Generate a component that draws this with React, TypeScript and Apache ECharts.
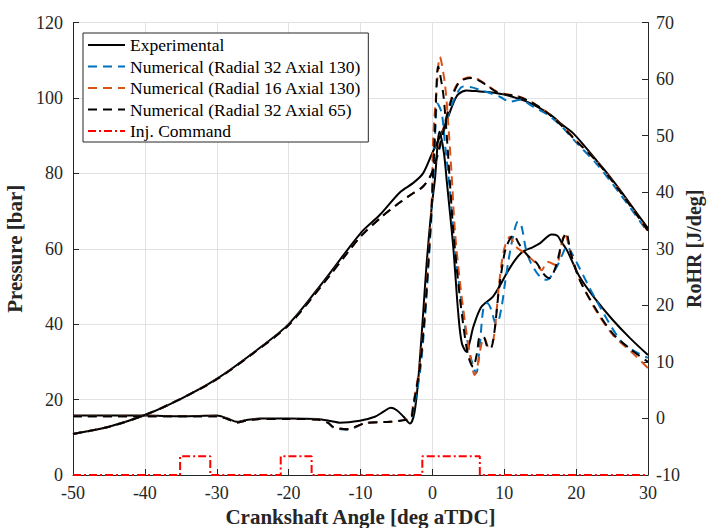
import React, { useEffect, useRef } from "react";
import * as echarts from "echarts";

// ---------- Data ----------
const xTicks = { min: -50, max: 30, interval: 10 };
const pTicks = { min: 0, max: 120, interval: 20 };
const rTicks = { min: -10, max: 70, interval: 10 };

// Experimental pressure [bar]
const pExpX = [-50, -45, -40, -35, -30, -25, -20, -15, -10, -7.3, -4.5, -2.7, -1.3, -0.1, 1, 2, 3, 3.6, 4.75, 6.6, 8, 10, 12, 13.6, 15, 16.8, 18, 19.6, 21, 22.8, 24.5, 26.1, 28, 30];
const pExpY = [10.9, 12.8, 15.9, 20.2, 25.5, 32.3, 40.0, 51.7, 64.1, 69, 75, 77.4, 80, 85, 89.5, 94, 99, 101, 102, 101.7, 101.5, 100.9, 99.8, 98.6, 97.2, 95, 93, 90.6, 87.6, 83.5, 79.6, 75.6, 70.6, 65.4];

// Numerical pressure, Radial 32 Axial 130 (blue)
const pB32X = [-50, -45, -40, -35, -30, -25, -20, -15, -12, -10, -7, -5, -3.1, -1.3, -0.1, 1, 2, 3, 4.3, 5.5, 6.6, 8, 9.4, 10.8, 12.2, 14, 16, 18, 20, 22.8, 26.1, 30];
const pB32Y = [10.9, 12.8, 15.9, 20.2, 25.4, 32.2, 39.8, 51.2, 58.5, 63.2, 68.6, 71.6, 74.2, 76.5, 80, 86.5, 94, 99.5, 103, 102.8, 102.1, 101.3, 100.3, 99.0, 99.5, 97.7, 95.6, 92.4, 88.2, 82.6, 74.6, 64.3];

// Numerical pressure, Radial 16 Axial 130 (orange)
const pO16X = [-50, -45, -40, -35, -30, -25, -20, -15, -12, -10, -7, -5, -3.1, -1.3, -0.1, 1, 2, 2.5, 3, 3.6, 4.5, 5.5, 6.5, 7.5, 8.9, 10, 12, 14, 16, 18, 20, 22.8, 26.1, 30];
const pO16Y = [10.9, 12.8, 15.9, 20.2, 25.4, 32.2, 39.8, 51.2, 58.5, 63.2, 68.6, 71.6, 74.2, 76.5, 80, 87.5, 95.5, 99, 102, 104, 105.2, 105.5, 104.8, 103.5, 101.8, 101.1, 100.4, 98.7, 96.1, 92.7, 88.7, 83.3, 75.3, 64.6];

// Numerical pressure, Radial 32 Axial 65 (black dashed)
const pK65X = [-50, -45, -40, -35, -30, -25, -20, -15, -12, -10, -7, -5, -3.1, -1.3, -0.1, 1, 2, 2.5, 3, 3.6, 4.5, 5.5, 6.5, 7.5, 8.9, 10, 12, 14, 16, 18, 20, 22.8, 26.1, 30];
const pK65Y = [10.9, 12.8, 15.9, 20.2, 25.4, 32.2, 39.8, 51.2, 58.5, 63.2, 68.6, 71.6, 74.2, 76.5, 80, 87, 95, 98.5, 101.5, 103.8, 105, 105.3, 104.6, 103.4, 101.6, 101, 100.3, 98.6, 96, 92.6, 88.6, 83.3, 75.2, 64.8];

// Experimental RoHR [J/deg]
const rExpX = [-50, -40, -35, -30, -28.5, -27.2, -26, -24, -20, -16, -14, -12.9, -10.1, -8, -6.8, -5.8, -5, -4, -3.1, -2.5, -1.97, -1.28, -0.8, -0.1, 0.35, 1.0, 1.6, 2.0, 2.9, 3.6, 4.1, 4.75, 5.2, 5.7, 6.8, 8.4, 9.4, 10.3, 11.5, 12.6, 14, 15, 16.6, 17.4, 17.9, 18.7, 20.5, 22.8, 25.1, 27.5, 30];
const rExpY = [0.5, 0.5, 0.4, 0.5, 0, -0.6, -0.3, 0, 0, -0.1, -0.5, -0.75, -0.4, 0.3, 1.2, 1.9, 1.5, 0.3, -0.9, 1, 6.8, 18.6, 27.4, 37.4, 42.2, 50.7, 47, 42, 30.4, 18.6, 13.3, 11.8, 13.5, 16.2, 19.7, 21.5, 23.5, 25.6, 28, 29.5, 30.3, 31, 32.5, 32.3, 31.3, 29.8, 25, 20.9, 17.4, 14.2, 11.2];

// Numerical RoHR, Radial 32 Axial 130 (blue)
const rB32X = [-50, -40, -30, -28.5, -27.2, -26, -24, -20, -16, -14.5, -13.8, -11.9, -9.2, -5.9, -4, -3, -2.67, -1.74, -1.04, -0.57, -0.1, 0.3, 0.7, 1.3, 1.8, 2.3, 2.8, 3.3, 4.0, 4.7, 5.4, 6.1, 6.6, 7.1, 7.6, 8.1, 8.7, 9.0, 9.6, 10.1, 10.6, 11.2, 11.9, 12.4, 13.0, 13.7, 15.0, 15.9, 17.3, 18.1, 18.7, 19.5, 20.5, 22.8, 26.1, 28, 30];
const rB32Y = [0.4, 0.4, 0.4, -0.1, -0.7, -0.4, -0.1, -0.1, -0.2, -0.8, -1.6, -2.0, -0.8, -0.6, -0.3, -0.1, 1.5, 8, 17.5, 26.5, 36.5, 47, 55.7, 54, 48, 42, 35, 28, 21, 15, 10.5, 8, 13, 19.5, 20.4, 19.5, 17, 16.8, 19.5, 23.9, 28, 32, 34.8, 34, 30, 27.5, 25, 24.5, 26.8, 29, 30.4, 29, 26.5, 20.9, 13.9, 12, 10.7];

// Numerical RoHR, Radial 16 Axial 130 (orange)
const rO16X = [-50, -40, -30, -28.5, -27.2, -26, -24, -20, -16, -14.5, -13.8, -11.9, -9.2, -5.9, -4, -3, -2.67, -1.74, -1.04, -0.57, -0.1, 0.1, 0.58, 1.04, 1.74, 2.2, 2.67, 3.13, 3.8, 4.5, 5.2, 5.9, 6.4, 6.8, 7.2, 7.8, 8.5, 9.3, 10.0, 10.8, 11.5, 12.5, 13.5, 14.5, 15.2, 16.0, 17.2, 18.0, 18.4, 19.3, 20.5, 22.8, 25.1, 27.9, 30];
const rO16Y = [0.4, 0.4, 0.4, -0.1, -0.7, -0.4, -0.1, -0.1, -0.2, -0.8, -1.5, -1.9, -0.8, -0.6, -0.3, 0.3, 2.5, 9.5, 19, 28, 38, 49.2, 58, 63.9, 59.2, 52.2, 43.3, 33.3, 24.5, 17.4, 11.5, 7.7, 10, 13, 14.3, 12.7, 14, 24, 30, 32.1, 30.5, 29.5, 28.5, 27.3, 26.2, 27.7, 27.1, 31, 32.7, 29, 24.5, 19, 14.8, 11.5, 8.9];

// Numerical RoHR, Radial 32 Axial 65 (black dashed)
const rK65X = [-50, -40, -30, -28.5, -27.2, -26, -24, -20, -16, -14.5, -13.8, -11.9, -9.2, -5.9, -4, -3, -2.67, -1.74, -1.04, -0.57, -0.1, 0.4, 0.8, 1.5, 2.0, 2.45, 2.9, 3.6, 4.3, 5.0, 5.67, 6.2, 6.6, 7.1, 7.7, 8.1, 8.6, 9.2, 9.8, 10.3, 11.3, 12.0, 12.6, 13.5, 14.5, 15.5, 16.3, 17.2, 18.0, 18.6, 19.3, 20.5, 22.8, 25.1, 27.5, 30];
const rK65Y = [0.4, 0.4, 0.4, -0.1, -0.7, -0.4, -0.1, -0.1, -0.2, -0.8, -1.5, -1.9, -0.8, -0.6, -0.3, 0, 2.1, 9.1, 18.6, 27.4, 37.4, 52, 62.2, 57.5, 50, 41.5, 33.3, 24, 16.5, 11, 9.1, 11.5, 14.4, 14.4, 12.5, 12.4, 15, 22.1, 27.5, 30.4, 32.4, 31, 29.8, 28.5, 27.5, 25.5, 24.8, 27, 31, 32.8, 29, 24.5, 19.2, 15, 12.3, 10];

// Injection command (pulses, left-axis units)
const injStart = [-35.1, -21.1, -1.4];
const injEnd = [-30.9, -16.8, 6.6];
const injHigh = 5;
const injLow = 0;

const names = [
  "Experimental",
  "Numerical (Radial 32 Axial 130)",
  "Numerical (Radial 16 Axial 130)",
  "Numerical (Radial 32 Axial 65)",
  "Inj. Command",
];

const zip = (xs: number[], ys: number[]) => xs.map((x, i) => [x, ys[i]]);

function injPoints(): number[][] {
  const pts: number[][] = [[xTicks.min, injLow]];
  injStart.forEach((s, i) => {
    pts.push([s, injLow], [s, injHigh], [injEnd[i], injHigh], [injEnd[i], injLow]);
  });
  pts.push([xTicks.max, injLow]);
  return pts;
}

const FONT = "Liberation Serif";
const AXIS = "#262626";
const BLUE = "#0072BD";
const ORANGE = "#D95319";
const DASH = [9, 6];

export default function App() {
  const ref = useRef<HTMLDivElement>(null);
  useEffect(() => {
    document.body.style.margin = "0";
    if (!ref.current) return;
    const chart = echarts.init(ref.current, null, { renderer: "svg" });
    const lineSeries = (name: string, xs: number[], ys: number[], axis: number, color: string, type: any) => ({
      name,
      type: "line",
      yAxisIndex: axis,
      data: zip(xs, ys),
      symbol: "none",
      showSymbol: false,
      smooth: 0.3,
      lineStyle: { color, width: 2, type },
      itemStyle: { color },
    });
    const axisName = { fontFamily: FONT, fontSize: 20, fontWeight: "bold", color: AXIS };
    const tickLabel = { fontFamily: FONT, fontSize: 18, color: AXIS };
    const legendText = { fontFamily: FONT, fontSize: 17.5, color: "#000" };
    const option: any = {
      animation: false,
      backgroundColor: "#ffffff",
      textStyle: { fontFamily: FONT },
      grid: { left: 73, right: 62, top: 22.5, bottom: 53, outerBoundsMode: "none", containLabel: false },
      legend: {
        orient: "vertical",
        left: 83,
        top: 33,
        data: names.map((n) => ({ name: n, textStyle: legendText })),
        itemWidth: 37,
        itemHeight: 14,
        itemGap: 3.5,
        padding: [3, 7, 2, 4],
        borderColor: AXIS,
        borderWidth: 1,
        borderRadius: 0,
        backgroundColor: "#ffffff",
        itemStyle: { opacity: 0, borderWidth: 0 },
        textStyle: legendText,
        z: 10,
      },
      xAxis: {
        type: "value",
        min: xTicks.min,
        max: xTicks.max,
        interval: xTicks.interval,
        name: "Crankshaft Angle [deg aTDC]",
        nameLocation: "middle",
        nameGap: 28,
        nameTextStyle: { ...axisName, fontSize: 21 },
        axisLine: { show: true, onZero: false, lineStyle: { color: AXIS, width: 1 } },
        axisTick: { show: true, inside: true, length: 6, lineStyle: { color: AXIS } },
        axisLabel: { ...tickLabel, margin: 9 },
        splitLine: { show: true, lineStyle: { color: "#e2e2e2", width: 1 } },
      },
      yAxis: [
        {
          type: "value",
          position: "left",
          min: pTicks.min,
          max: pTicks.max,
          interval: pTicks.interval,
          name: "Pressure [bar]",
          nameLocation: "middle",
          nameRotate: 90,
          nameGap: 39,
          nameTextStyle: { ...axisName, fontSize: 21 },
          axisLine: { show: true, onZero: false, lineStyle: { color: AXIS, width: 1 } },
          axisTick: { show: true, inside: true, length: 6, lineStyle: { color: AXIS } },
          axisLabel: { ...tickLabel, margin: 10 },
          splitLine: { show: true, lineStyle: { color: "#e2e2e2", width: 1 } },
        },
        {
          type: "value",
          position: "right",
          min: rTicks.min,
          max: rTicks.max,
          interval: rTicks.interval,
          name: "RoHR [J/deg]",
          nameLocation: "middle",
          nameRotate: 90,
          nameGap: 36,
          nameMoveOverlap: false,
          nameTextStyle: axisName,
          axisLine: { show: true, onZero: false, lineStyle: { color: AXIS, width: 1 } },
          axisTick: { show: true, inside: true, length: 6, lineStyle: { color: AXIS } },
          axisLabel: { ...tickLabel, margin: 8 },
          splitLine: { show: false },
        },
      ],
      series: [
        lineSeries(names[0], pExpX, pExpY, 0, "#000000", "solid"),
        lineSeries(names[0], rExpX, rExpY, 1, "#000000", "solid"),
        lineSeries(names[1], pB32X, pB32Y, 0, BLUE, DASH),
        lineSeries(names[1], rB32X, rB32Y, 1, BLUE, DASH),
        lineSeries(names[2], pO16X, pO16Y, 0, ORANGE, DASH),
        lineSeries(names[2], rO16X, rO16Y, 1, ORANGE, DASH),
        lineSeries(names[3], pK65X, pK65Y, 0, "#000000", DASH),
        lineSeries(names[3], rK65X, rK65Y, 1, "#000000", DASH),
        {
          name: names[4],
          type: "line",
          yAxisIndex: 0,
          data: injPoints(),
          symbol: "none",
          showSymbol: false,
          clip: false,
          lineStyle: { color: "#FF0000", width: 2, type: [8, 3, 2, 3] },
          itemStyle: { color: "#FF0000" },
        },
      ],
    };
    chart.setOption(option);
    return () => chart.dispose();
  }, []);
  return <div ref={ref} style={{ width: 710, height: 528 }} />;
}
